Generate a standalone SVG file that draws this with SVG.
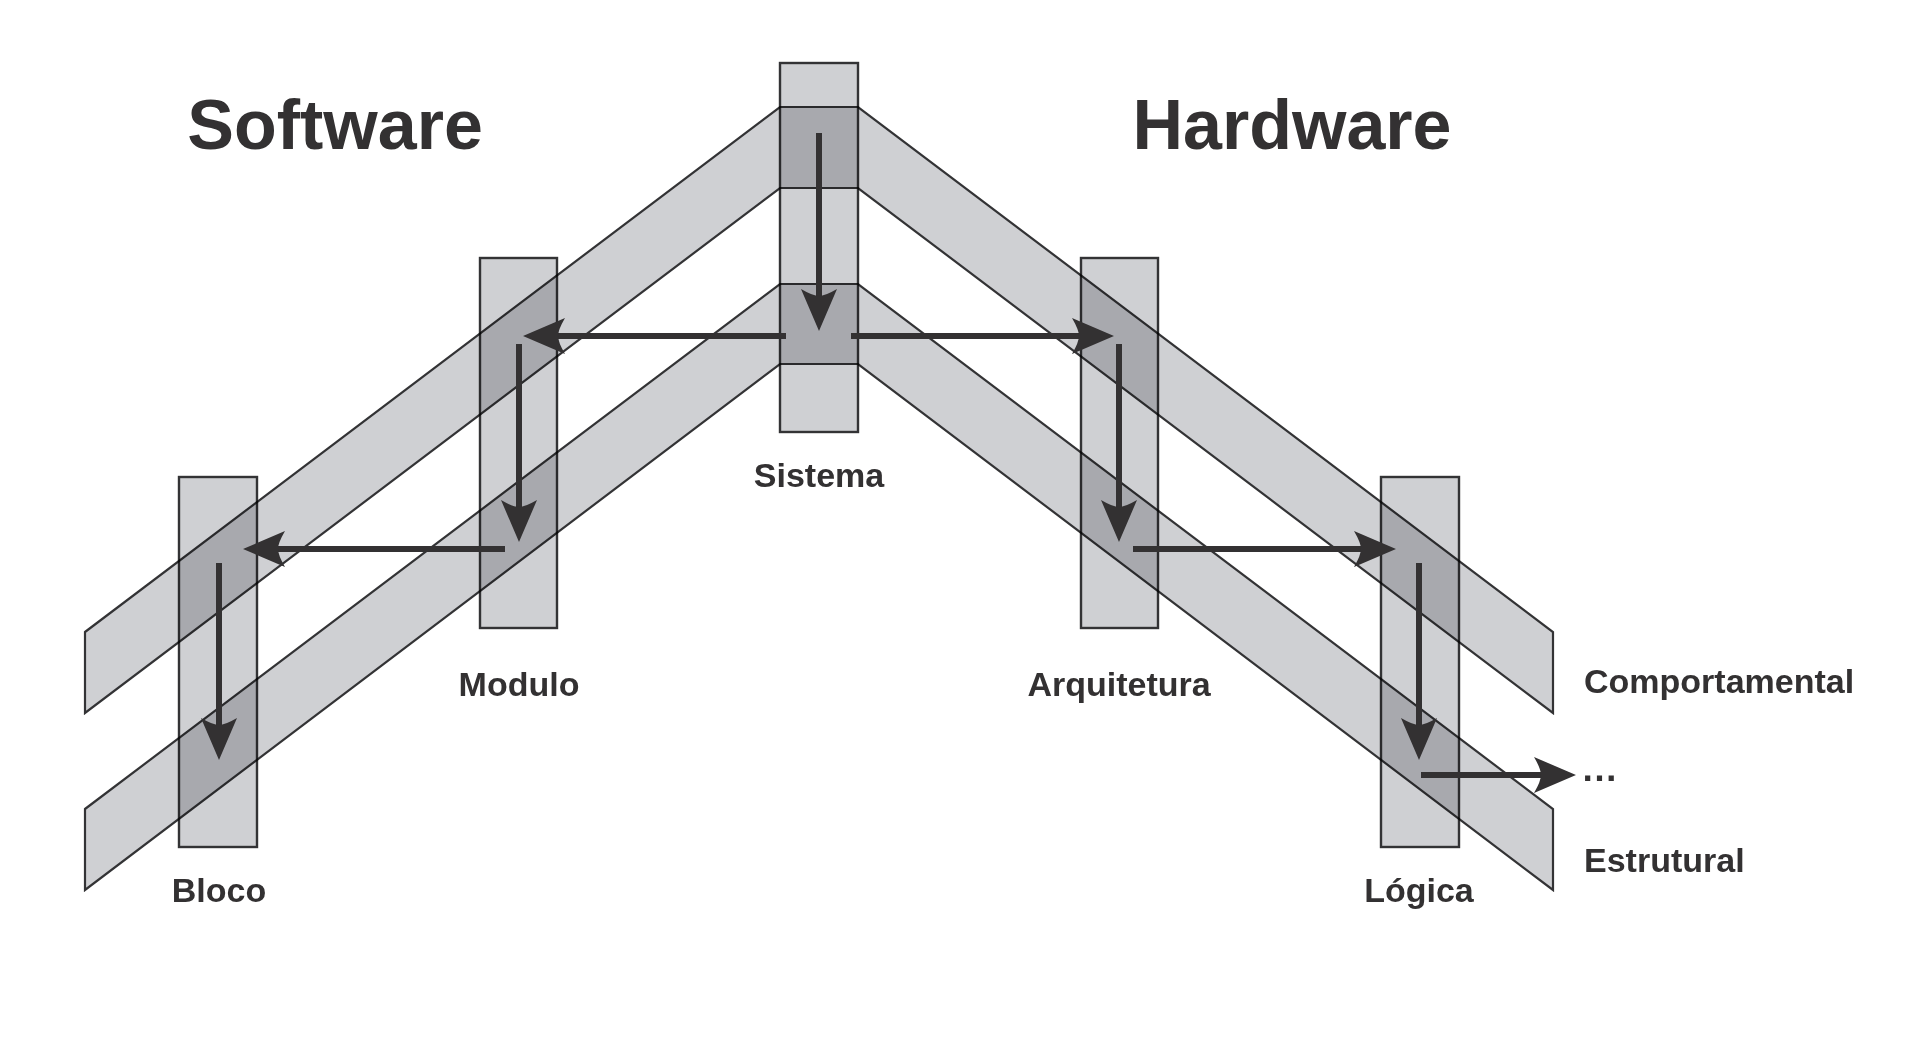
<svg xmlns="http://www.w3.org/2000/svg" width="1919" height="1045" viewBox="0 0 1919 1045">
<style>
.band{fill:#cfd0d3;stroke:#333335;stroke-width:2.2;stroke-linejoin:miter}
.col{fill:#cfd0d3;stroke:#333335;stroke-width:2.4;mix-blend-mode:multiply}
.arr{stroke:#333132;stroke-width:6;fill:none;marker-end:url(#ah)}
.lbl{font-family:"Liberation Sans",Arial,sans-serif;font-weight:bold;fill:#333132;font-size:34px}
.ttl{font-family:"Liberation Sans",Arial,sans-serif;font-weight:bold;fill:#333132;font-size:70px;text-anchor:middle}
</style>
<defs>
<marker id="ah" markerUnits="userSpaceOnUse" orient="auto" viewBox="-32 -20 46 40" refX="0" refY="0" markerWidth="46" markerHeight="40">
<path d="M12 0 L-30 -18 Q-23 -6 -23 0 Q-23 6 -30 18 Z" fill="#333132"/>
</marker>
</defs>
<rect width="1919" height="1045" fill="#ffffff"/>
<g id="band-comportamental">
<polygon class="band" points="85,632 780,107 858,107 1553,632 1553,713 858,188 780,188 85,713"/>
</g>
<g id="band-estrutural">
<polygon class="band" points="85,809 780,284 858,284 1553,809 1553,890 858,364 780,364 85,890"/>
</g>
<g id="node-sistema">
<rect class="col" x="780" y="63" width="78" height="369"/>
<text class="lbl" x="819" y="487" text-anchor="middle">Sistema</text>
</g>
<g id="node-modulo">
<rect class="col" x="480" y="258" width="77" height="370"/>
<text class="lbl" x="519" y="696" text-anchor="middle">Modulo</text>
</g>
<g id="node-bloco">
<rect class="col" x="179" y="477" width="78" height="370"/>
<text class="lbl" x="219" y="902" text-anchor="middle">Bloco</text>
</g>
<g id="node-arquitetura">
<rect class="col" x="1081" y="258" width="77" height="370"/>
<text class="lbl" x="1119" y="696" text-anchor="middle">Arquitetura</text>
</g>
<g id="node-logica">
<rect class="col" x="1381" y="477" width="78" height="370"/>
<text class="lbl" x="1419" y="902" text-anchor="middle">Lógica</text>
</g>
<g id="connectors">
<line class="arr" x1="819" y1="133" x2="819" y2="319"/>
<line class="arr" x1="786" y1="336" x2="535" y2="336"/>
<line class="arr" x1="851" y1="336" x2="1102" y2="336"/>
<line class="arr" x1="519" y1="344" x2="519" y2="530"/>
<line class="arr" x1="505" y1="549" x2="255" y2="549"/>
<line class="arr" x1="219" y1="563" x2="219" y2="748"/>
<line class="arr" x1="1119" y1="344" x2="1119" y2="530"/>
<line class="arr" x1="1133" y1="549" x2="1384" y2="549"/>
<line class="arr" x1="1419" y1="563" x2="1419" y2="748"/>
<line class="arr" x1="1421" y1="775" x2="1564" y2="775"/>
</g>
<g id="labels">
<text class="ttl" x="335" y="149">Software</text>
<text class="ttl" x="1292" y="149">Hardware</text>
<text class="lbl" x="1584" y="693">Comportamental</text>
<text class="lbl" x="1584" y="872">Estrutural</text>
<text class="lbl" x="1581" y="781" style="font-size:37px">…</text>
</g>
</svg>
